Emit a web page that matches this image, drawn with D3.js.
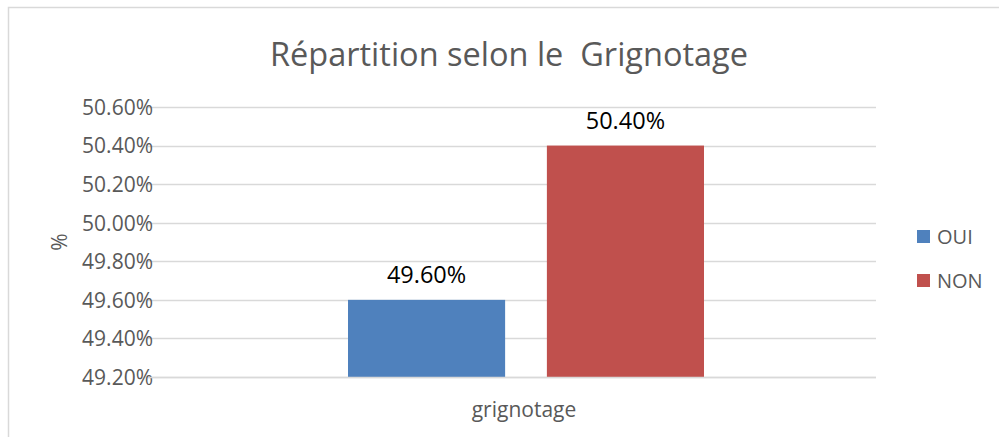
<!DOCTYPE html>
<html><head><meta charset="utf-8">
<script src="https://cdn.jsdelivr.net/npm/d3@7"></script>
<style>body{margin:0;background:#fff;font-family:"Open Sans",sans-serif;}</style>
</head><body>
<svg id="c" width="999" height="437"></svg>
<script>
const categories = ["grignotage"];
const seriesNames = ["OUI", "NON"];
const seriesValues = [0.496, 0.504];
const seriesColors = ["#4f81bd", "#c0504d"];
const yTicks = [0.492, 0.494, 0.496, 0.498, 0.500, 0.502, 0.504, 0.506];
const title = "Répartition selon le  Grignotage";
const yLabel = "%";

const svg = d3.select("#c");
const m = {left: 148, right: 876, top: 107, bottom: 377};

// chart border
svg.append("rect").attr("x", 8.5).attr("y", 7.5).attr("width", 1000).attr("height", 440)
  .attr("fill", "#fff").attr("stroke", "#d9d9d9").attr("stroke-width", 1.5);

const y = d3.scaleLinear().domain([0.492, 0.506]).range([m.bottom, m.top]);
const x0 = d3.scaleBand().domain(categories).range([m.left, m.right]);
const x1 = d3.scaleBand().domain(seriesNames).range([348, 704]).paddingInner(0.21);

const fmt = d3.format(".2%");

// gridlines
svg.append("g").selectAll("line").data(yTicks).join("line")
  .attr("x1", m.left).attr("x2", m.right)
  .attr("y1", d => Math.round(y(d)) + 0.5).attr("y2", d => Math.round(y(d)) + 0.5)
  .attr("stroke", "#d9d9d9").attr("stroke-width", 1.3);

// y axis labels
const yAxis = d3.axisLeft(y).tickValues(yTicks).tickFormat(fmt).tickSize(0).tickPadding(0);
const ga = svg.append("g").attr("transform", `translate(${m.left + 5},0)`).call(yAxis);
ga.select(".domain").remove();
ga.selectAll("text").attr("font-family", "Open Sans").attr("font-size", 21).attr("fill", "#595959").attr("dy", "0.35em");

// bars
const data = seriesNames.map((s, i) => ({s, v: seriesValues[i], c: seriesColors[i]}));
svg.append("g").selectAll("rect").data(data).join("rect")
  .attr("x", d => x1(d.s)).attr("width", x1.bandwidth())
  .attr("y", d => y(d.v)).attr("height", d => y(0.492) - y(d.v))
  .attr("fill", d => d.c);

// x axis baseline
svg.append("line").attr("x1", m.left).attr("x2", m.right).attr("y1", m.bottom + 0.5).attr("y2", m.bottom + 0.5)
  .attr("stroke", "#d9d9d9").attr("stroke-width", 1.5);

// data labels
svg.append("g").selectAll("text").data(data).join("text")
  .attr("x", d => x1(d.s) + x1.bandwidth() / 2).attr("y", d => y(d.v) - 17)
  .attr("text-anchor", "middle").attr("font-size", 23.5).attr("fill", "#000")
  .text(d => fmt(d.v));

// category label
svg.append("text").attr("x", x0(categories[0]) + x0.bandwidth() / 2 + 12).attr("y", 417)
  .attr("text-anchor", "middle").attr("font-size", 21).attr("fill", "#595959").text(categories[0]);

// y label
svg.append("text").attr("transform", "translate(67,242) rotate(-90)")
  .attr("text-anchor", "middle").attr("font-size", 21).attr("fill", "#595959").text(yLabel);

// title
svg.append("text").attr("x", 509).attr("y", 66).attr("text-anchor", "middle")
  .attr("font-size", 32.5).attr("fill", "#595959").attr("xml:space", "preserve").style("white-space", "pre").text(title);

// legend
const lg = svg.append("g").selectAll("g").data(data).join("g")
  .attr("transform", (d, i) => `translate(917,${230 + i * 44})`);
lg.append("rect").attr("width", 13).attr("height", 13).attr("fill", d => d.c);
lg.append("text").attr("x", 20).attr("y", 7).attr("dy", "0.35em").attr("font-size", 20).attr("fill", "#595959").text(d => d.s);
</script>
</body></html>
